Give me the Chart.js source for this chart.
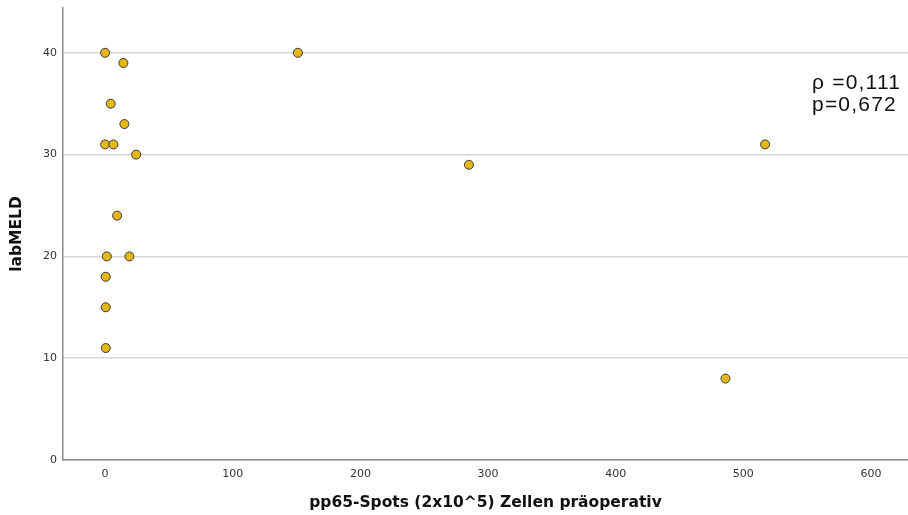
<!DOCTYPE html>
<html>
<head>
<meta charset="utf-8">
<script src="https://cdn.jsdelivr.net/npm/chart.js@4"></script>
<style>
  html, body { margin: 0; padding: 0; background: #fff; }
  #chart { display: block; }
</style>
</head>
<body>
<canvas id="chart" width="908" height="515"></canvas>
<script>
(function () {
  "use strict";

  // ── Data ──
  var spots = [0, 14.3, 4.4, 15.1, 0, 6.5, 24.3, 9.4, 1.3, 19, 0.5, 0.5, 0.5, 151, 285, 517, 486];
  var meld  = [40, 39, 35, 33, 31, 31, 30, 24, 20, 20, 18, 15, 11, 40, 29, 31, 8];
  var xTicks = [0, 100, 200, 300, 400, 500, 600];
  var yTicks = [0, 10, 20, 30, 40];
  var statLines = ["\u03C1 =0,111", "p=0,672"];

  var points = spots.map(function (x, i) { return { x: x, y: meld[i] }; });

  var AXIS = "#8c8c8c", GRID = "#d4d4d4", TXT = "#333";
  var tickFont = { family: "DejaVu Sans", size: 11 };
  var titleFont = { family: "DejaVu Sans", size: 15.5, weight: "bold" };

  function fixedTicks(list) {
    return function (scale) {
      scale.ticks = list.map(function (v) { return { value: v }; });
    };
  }

  // plot box is sized by hand, drop the tick-label edge padding
  function noEdgePad(s) {
    s.paddingTop = 0; s.paddingBottom = 0;
    s.paddingLeft = 0; s.paddingRight = 0;
  }

  // ── Correlation text in the upper right ──
  var statText = {
    id: "statText",
    afterDraw: function (chart) {
      var ctx = chart.ctx;
      ctx.save();
      ctx.font = '21px "Liberation Sans", Arial, sans-serif';
      ctx.letterSpacing = "1.2px";
      ctx.fillStyle = "#111";
      ctx.textBaseline = "alphabetic";
      ctx.textAlign = "left";
      statLines.forEach(function (s, i) {
        ctx.fillText(s, 812, 89 + i * 22);
      });
      ctx.restore();
    }
  };

  new Chart(document.getElementById("chart"), {
    type: "scatter",
    data: {
      datasets: [{
        data: points,
        backgroundColor: "#E4B714",
        borderColor: "#3a3a3a",
        borderWidth: 1,
        pointRadius: 4.5,
        pointHoverRadius: 4.5
      }]
    },
    options: {
      responsive: false,
      animation: false,
      layout: { autoPadding: false, padding: { top: 8, right: 0, bottom: 0, left: 0 } },
      plugins: { legend: { display: false }, tooltip: { enabled: false } },
      scales: {
        x: {
          type: "linear",
          min: -33,
          max: 629,
          afterBuildTicks: fixedTicks(xTicks),
          afterFit: function (s) { s.height = 55; noEdgePad(s); },
          grid: { display: false, drawTicks: false },
          border: { color: AXIS, width: 1.5 },
          ticks: { color: TXT, font: tickFont, padding: 8 },
          title: { display: true, text: "pp65-Spots (2x10^5) Zellen präoperativ", color: "#111", font: titleFont, padding: { top: 12, bottom: 3 } }
        },
        y: {
          type: "linear",
          min: 0,
          max: 44.4,
          afterBuildTicks: fixedTicks(yTicks),
          afterFit: function (s) { s.width = 63; noEdgePad(s); },
          grid: { color: GRID, lineWidth: 1.5, drawTicks: false },
          border: { color: AXIS, width: 1.5 },
          ticks: { color: TXT, font: tickFont, padding: 6 },
          title: { display: true, text: "labMELD", color: "#111", font: titleFont, padding: { top: 8, bottom: 8 } }
        }
      }
    },
    plugins: [statText]
  });
})();
</script>
</body>
</html>
